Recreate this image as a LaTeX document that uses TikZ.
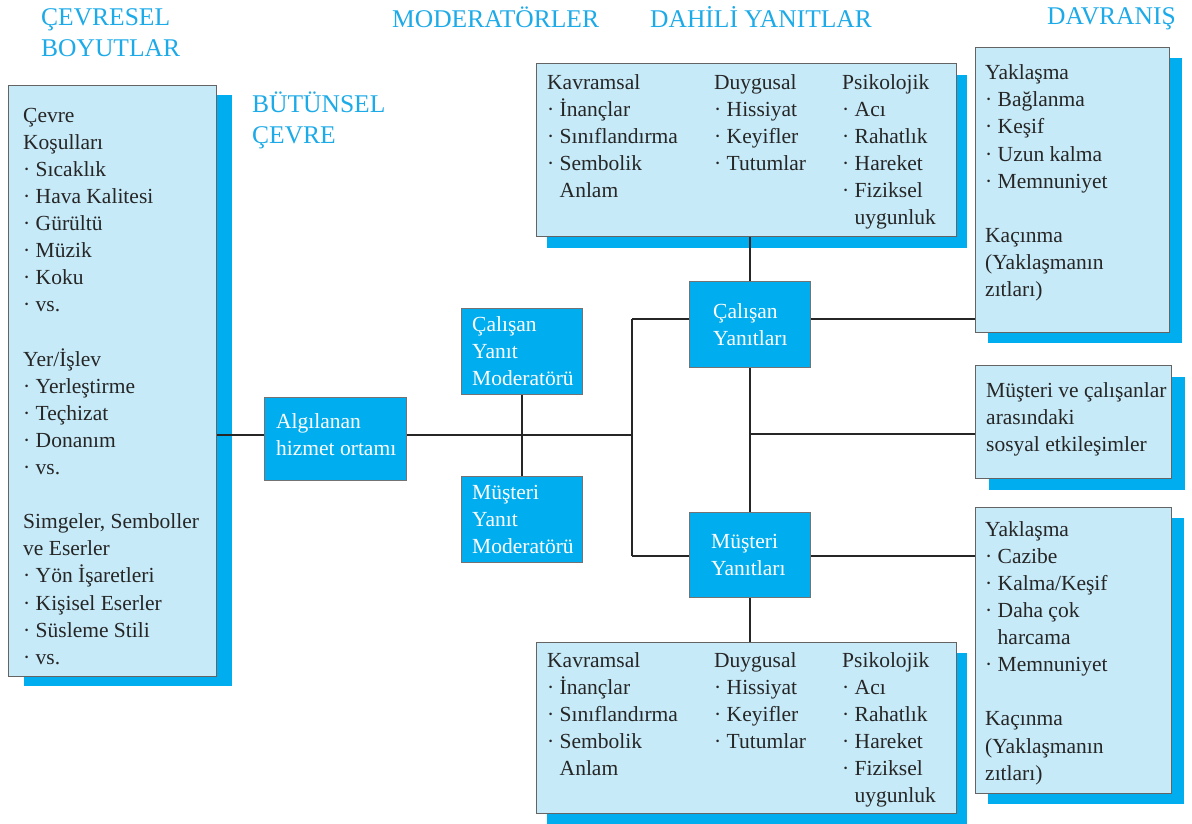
\documentclass[tikz,border=0pt]{standalone}
\usepackage{fontspec}
\setmainfont{Liberation Serif}
\usetikzlibrary{shadows}
\definecolor{cy}{RGB}{0,174,239}
\definecolor{lb}{RGB}{198,234,248}
\definecolor{hd}{RGB}{28,170,232}
\definecolor{bd}{RGB}{100,100,100}
\newcommand\bodyfnt{\fontsize{21.5pt}{27.1pt}\selectfont}
\newcommand\headfnt{\fontsize{25.5pt}{31.5pt}\selectfont}
\newcommand\bst{\rule{0pt}{16pt}}
\newcommand\tst{\rule{0pt}{22pt}}
\newcommand\bl{·\ }
\newcommand\ind{\hphantom{·\ }}
\tikzset{
 lightbox/.style 2 args={draw=bd, line width=1.2pt, fill=lb, inner sep=0pt, anchor=north west,
   drop shadow={shadow xshift=#1, shadow yshift=#2, fill=cy, opacity=1}},
 darkbox/.style={draw=black!55, line width=1pt, fill=cy, inner sep=0pt, anchor=north west},
 txt/.style={anchor=north west, inner sep=0pt, align=left, font=\bodyfnt, text=black!85},
 wtxt/.style={txt, text=white},
 head/.style={anchor=north west, inner sep=0pt, align=left, font=\headfnt, text=hd},
 conn/.style={draw=black!85, line width=1.4pt},
}
\begin{document}
\begin{tikzpicture}[x=1pt,y=-1pt]
\useasboundingbox (0,0) rectangle (1192,823);
\fill[white] (0,0) rectangle (1192,823);

% headings
\node[head] (h1) at (41,3) {\tst ÇEVRESEL\\BOYUTLAR};
\node[head] (h2) at (392,5) {\tst MODERATÖRLER};
\node[head] (h3) at (650,5) {\tst DAHİLİ YANITLAR};
\node[head] (h4) at (1047,2) {\tst DAVRANIŞ};
\node[head] (h5) at (252,90) {\tst BÜTÜNSEL\\ÇEVRE};

% light boxes
\node[lightbox={15pt}{-9pt}, minimum width=208pt, minimum height=591pt] (envbox) at (8,85) {};
\node[lightbox={10pt}{-11pt}, minimum width=420pt, minimum height=173pt] (topint) at (536,63) {};
\node[lightbox={10pt}{-10pt}, minimum width=420pt, minimum height=171pt] (botint) at (536,642) {};
\node[lightbox={12pt}{-10pt}, minimum width=194pt, minimum height=285pt] (topdav) at (975,47) {};
\node[lightbox={13pt}{-11pt}, minimum width=196pt, minimum height=113pt] (social) at (975,365) {};
\node[lightbox={12pt}{-10pt}, minimum width=196pt, minimum height=286pt] (botdav) at (975,507) {};

% dark boxes
\node[darkbox, minimum width=142pt, minimum height=83pt] (algi) at (264,397) {};
\node[darkbox, minimum width=121pt, minimum height=86pt] (calmod) at (461,308) {};
\node[darkbox, minimum width=121pt, minimum height=86pt] (musmod) at (461,476) {};
\node[darkbox, minimum width=121pt, minimum height=86pt] (calyan) at (689,281) {};
\node[darkbox, minimum width=121pt, minimum height=85pt] (musyan) at (689,512) {};

% texts
\node[txt] (envtxt) at (23,106) {\bst Çevre\\Koşulları\\\bl Sıcaklık\\\bl Hava Kalitesi\\\bl Gürültü\\\bl Müzik\\\bl Koku\\\bl vs.\\ \mbox{}\\Yer/İşlev\\\bl Yerleştirme\\\bl Teçhizat\\\bl Donanım\\\bl vs.\\ \mbox{}\\Simgeler, Semboller\\ve Eserler\\\bl Yön İşaretleri\\\bl Kişisel Eserler\\\bl Süsleme Stili\\\bl vs.};

\node[txt] (kav1) at (547,73) {\bst Kavramsal\\\bl İnançlar\\\bl Sınıflandırma\\\bl Sembolik\\\ind Anlam};
\node[txt] (duy1) at (714,73) {\bst Duygusal\\\bl Hissiyat\\\bl Keyifler\\\bl Tutumlar};
\node[txt] (psi1) at (842,73) {\bst Psikolojik\\\bl Acı\\\bl Rahatlık\\\bl Hareket\\\bl Fiziksel\\\ind uygunluk};

\node[txt] (kav2) at (547,651) {\bst Kavramsal\\\bl İnançlar\\\bl Sınıflandırma\\\bl Sembolik\\\ind Anlam};
\node[txt] (duy2) at (714,651) {\bst Duygusal\\\bl Hissiyat\\\bl Keyifler\\\bl Tutumlar};
\node[txt] (psi2) at (842,651) {\bst Psikolojik\\\bl Acı\\\bl Rahatlık\\\bl Hareket\\\bl Fiziksel\\\ind uygunluk};

\node[txt] (topdavtxt) at (985,63.5) {\bst Yaklaşma\\\bl Bağlanma\\\bl Keşif\\\bl Uzun kalma\\\bl Memnuniyet\\ \mbox{}\\Kaçınma\\(Yaklaşmanın\\zıtları)};
\node[txt] (socialtxt) at (986,381) {\bst Müşteri ve çalışanlar\\arasındaki\\sosyal etkileşimler};
\node[txt] (botdavtxt) at (985,520) {\bst Yaklaşma\\\bl Cazibe\\\bl Kalma/Keşif\\\bl Daha çok\\\ind harcama\\\bl Memnuniyet\\ \mbox{}\\Kaçınma\\(Yaklaşmanın\\zıtları)};

\node[wtxt] (algitxt) at (276,412) {\bst Algılanan\\hizmet ortamı};
\node[wtxt] (calmodtxt) at (472,315) {\bst Çalışan\\Yanıt\\Moderatörü};
\node[wtxt] (musmodtxt) at (472,483) {\bst Müşteri\\Yanıt\\Moderatörü};
\node[wtxt] (calyantxt) at (713,302) {\bst Çalışan\\Yanıtları};
\node[wtxt] (musyantxt) at (711,532) {\bst Müşteri\\Yanıtları};

% connectors
\coordinate (jm) at (632,435);
\coordinate (jt) at (632,319);
\coordinate (jb) at (632,556);
\coordinate (js) at (750,434);
\draw[conn] (envbox.east |- jm) -- (algi.west |- jm);
\draw[conn] (algi.east |- jm) -- (jm);
\draw[conn] (calmod.south) -- (calmod.south |- musmod.north);
\draw[conn] (jt) -- (jb);
\draw[conn] (jt) -- (calyan.west |- jt);
\draw[conn] (jb) -- (musyan.west |- jb);
\draw[conn] (calyan.north) -- (calyan.north |- topint.south);
\draw[conn] (calyan.south) -- (musyan.north);
\draw[conn] (musyan.south) -- (musyan.south |- botint.north);
\draw[conn] (js) -- (social.west |- js);
\draw[conn] (calyan.east |- jt) -- (topdav.west |- jt);
\draw[conn] (musyan.east |- jb) -- (botdav.west |- jb);
\end{tikzpicture}
\end{document}
